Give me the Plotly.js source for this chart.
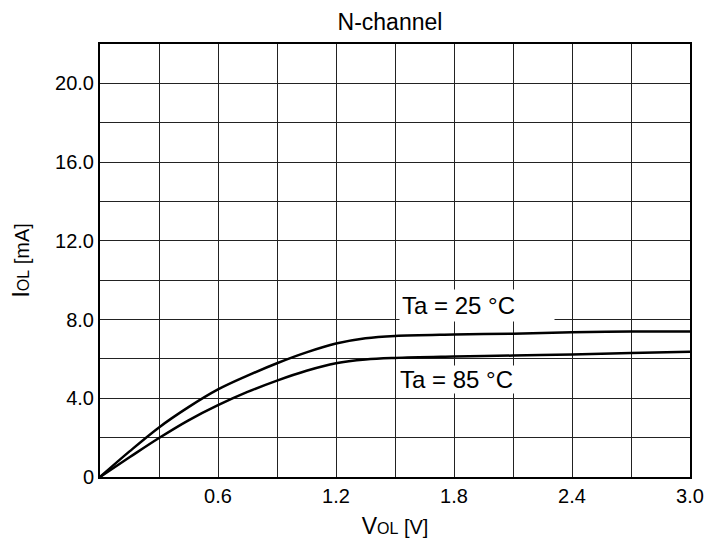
<!DOCTYPE html>
<html>
<head>
<meta charset="utf-8">
<script src="https://cdn.plot.ly/plotly-3.0.1.min.js"></script>
<style>html,body{margin:0;padding:0;background:#fff;}</style>
</head>
<body>
<div id="chart" style="width:707px;height:539px;"></div>
<script>
// Data
const vol = [0, 0.15, 0.3, 0.45, 0.6, 0.75, 0.9, 1.05, 1.2, 1.35, 1.5, 1.8, 2.1, 2.4, 2.7, 3.0];
const iol25 = [0, 1.3, 2.52, 3.55, 4.45, 5.15, 5.78, 6.33, 6.78, 7.05, 7.17, 7.24, 7.28, 7.35, 7.39, 7.39];
const iol85 = [0, 1.0, 1.98, 2.88, 3.65, 4.32, 4.9, 5.4, 5.78, 5.97, 6.05, 6.12, 6.17, 6.23, 6.3, 6.36];
const seriesNames = ['Ta = 25 °C', 'Ta = 85 °C'];

const xTickVals = [0, 0.3, 0.6, 0.9, 1.2, 1.5, 1.8, 2.1, 2.4, 2.7, 3.0];
const xTickText = ['', '', '0.6', '', '1.2', '', '1.8', '', '2.4', '', '3.0'];
const yTickVals = [0, 2, 4, 6, 8, 10, 12, 14, 16, 18, 20, 22];
const yTickText = ['0', '', '4.0', '', '8.0', '', '12.0', '', '16.0', '', '20.0', ''];

const FONT = 'Liberation Sans, Arial, sans-serif';

const traces = [
  {x: vol, y: iol25, name: seriesNames[0], mode: 'lines',
   line: {color: '#000', width: 2.5, shape: 'spline', smoothing: 1}},
  {x: vol, y: iol85, name: seriesNames[1], mode: 'lines',
   line: {color: '#000', width: 2.5, shape: 'spline', smoothing: 1}}
];

const layout = {
  width: 707, height: 539,
  margin: {l: 100, r: 17, t: 44, b: 62},
  paper_bgcolor: '#fff', plot_bgcolor: '#fff',
  showlegend: false,
  font: {family: FONT, color: '#000', size: 20},
  title: {text: 'N-channel', font: {family: FONT, size: 23, color: '#000'},
          x: 0.4915, xref: 'paper', xanchor: 'center', y: 1 - 22/539, yref: 'container', yanchor: 'middle'},
  xaxis: {
    range: [0, 3.0], tickvals: xTickVals, ticktext: xTickText,
    showgrid: true, gridcolor: '#222', gridwidth: 1,
    showline: true, linecolor: '#000', linewidth: 2, mirror: true,
    ticks: '', zeroline: false, fixedrange: true,
    tickfont: {family: FONT, size: 20, color: '#000'},
    title: {text: '<span style="font-size:23px">V</span><span style="font-size:16px">OL</span> [V]',
            font: {family: FONT, size: 20, color: '#000'}, standoff: 16}
  },
  yaxis: {
    range: [0, 22], tickvals: yTickVals, ticktext: yTickText,
    showgrid: true, gridcolor: '#222', gridwidth: 1,
    showline: true, linecolor: '#000', linewidth: 2, mirror: true,
    ticks: '', zeroline: false, fixedrange: true,
    tickfont: {family: FONT, size: 20, color: '#000'},
    title: {text: '<span style="font-size:24px">I</span><span style="font-size:16px">OL</span> [mA]',
            font: {family: FONT, size: 20, color: '#000'}, standoff: 20}
  },
  annotations: [
    {x: 1.52, y: 8.69, xref: 'x', yref: 'y', text: seriesNames[0], showarrow: false,
     xanchor: 'left', yanchor: 'middle', align: 'left', bgcolor: '#fff', borderpad: 2,
     width: 150, font: {family: FONT, size: 24, color: '#000'}},
    {x: 1.52, y: 4.95, xref: 'x', yref: 'y', text: seriesNames[1], showarrow: false,
     xanchor: 'left', yanchor: 'middle', align: 'left', bgcolor: '#fff', borderpad: 0,
     width: 152, font: {family: FONT, size: 24, color: '#000'}}
  ]
};

Plotly.newPlot('chart', traces, layout, {displayModeBar: false, staticPlot: true});
</script>
</body>
</html>
